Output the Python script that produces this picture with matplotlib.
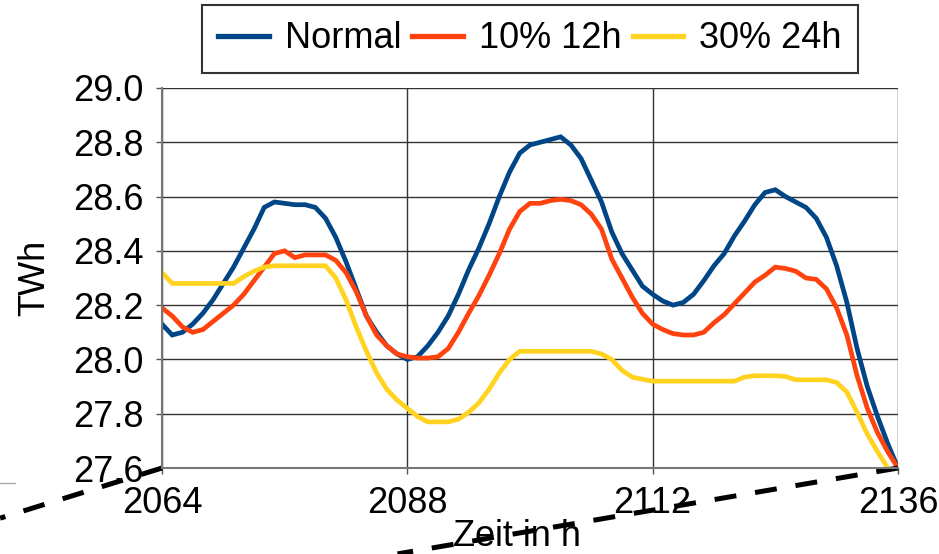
import numpy as np
import matplotlib
matplotlib.use("Agg")
import matplotlib.pyplot as plt

plt.rcParams['font.family'] = ['Liberation Sans', 'DejaVu Sans']

# hourly demand, hours 2064..2136
hours = np.arange(2064, 2137)
normal = [28.13, 28.09, 28.10, 28.13, 28.17, 28.22, 28.28, 28.34, 28.41, 28.48,
          28.56, 28.58, 28.575, 28.57, 28.57, 28.56, 28.52, 28.45, 28.36, 28.26,
          28.16, 28.10, 28.05, 28.02, 28.00,
          28.01, 28.05, 28.10, 28.16, 28.24, 28.33, 28.41, 28.50, 28.60, 28.69,
          28.76, 28.79, 28.80, 28.81, 28.82, 28.79, 28.74, 28.66, 28.58, 28.47,
          28.39, 28.33, 28.27, 28.24,
          28.215, 28.20, 28.21, 28.24, 28.29, 28.345, 28.39, 28.455, 28.51, 28.57,
          28.615, 28.625, 28.60, 28.58, 28.56, 28.52, 28.45, 28.345, 28.21, 28.04,
          27.90, 27.79, 27.69, 27.60]
p10_12h = [28.19, 28.16, 28.12, 28.10, 28.11, 28.14, 28.17, 28.20, 28.24, 28.29,
           28.34, 28.39, 28.40, 28.375, 28.385, 28.385, 28.385, 28.365, 28.32, 28.25,
           28.16, 28.09, 28.05, 28.02, 28.01,
           28.005, 28.005, 28.01, 28.04, 28.10, 28.17, 28.235, 28.31, 28.39, 28.48,
           28.545, 28.575, 28.575, 28.585, 28.59, 28.585, 28.57, 28.535, 28.48, 28.37,
           28.30, 28.23, 28.17, 28.13,
           28.11, 28.095, 28.09, 28.09, 28.10, 28.135, 28.165, 28.205, 28.245, 28.285,
           28.31, 28.34, 28.335, 28.325, 28.30, 28.295, 28.26, 28.19, 28.09, 27.94,
           27.82, 27.73, 27.66, 27.60]
p30_24h = [28.32, 28.28, 28.28, 28.28, 28.28, 28.28, 28.28, 28.28, 28.305, 28.325,
           28.34, 28.345, 28.345, 28.345, 28.345, 28.345, 28.345, 28.30, 28.22, 28.12,
           28.03, 27.95, 27.89, 27.85, 27.82,
           27.79, 27.77, 27.77, 27.77, 27.78, 27.805, 27.84, 27.89, 27.95, 28.00,
           28.03, 28.03, 28.03, 28.03, 28.03, 28.03, 28.03, 28.03, 28.02, 28.00,
           27.96, 27.935, 27.927, 27.92,
           27.92, 27.92, 27.92, 27.92, 27.92, 27.92, 27.92, 27.92, 27.935, 27.94,
           27.94, 27.94, 27.937, 27.925, 27.925, 27.925, 27.925, 27.915, 27.88, 27.805,
           27.725, 27.66, 27.60, 27.55]

labels = ["Normal", "10% 12h", "30% 24h"]
colors = ["#004586", "#ff420e", "#ffd320"]

fig = plt.figure(figsize=(9.39, 5.54), dpi=100)
ax = fig.add_axes([0.1725, 0.1552, 0.7838, 0.686])

for y, lab, c in zip([normal, p10_12h, p30_24h], labels, colors):
    ax.plot(hours, y, color=c, lw=3.4, label=lab, solid_joinstyle='miter')

ax.set_xlim(2064, 2136)
ax.set_ylim(27.6, 29.0)
ax.set_xticks([2064, 2088, 2112, 2136])
ax.set_yticks(np.arange(27.6, 29.01, 0.2))
ax.yaxis.set_major_formatter(matplotlib.ticker.FormatStrFormatter('%.1f'))
ax.grid(True, color='#333333', lw=1.0)
ax.set_axisbelow(True)
for s in ['top', 'right']:
    ax.spines[s].set_visible(False)
for s in ['left', 'bottom']:
    ax.spines[s].set_color('#777777')
    ax.spines[s].set_linewidth(1.5)
ax.tick_params(direction='out', length=4, width=1, color='#555555',
               labelsize=26, pad=9)

ax.set_ylabel("TWh", fontsize=26)
ax.yaxis.set_label_coords(-0.149, 0.5)
ax.set_xlabel("Zeit in h", fontsize=26)
ax.xaxis.set_label_coords(0.482, -0.135)

# dashed guide lines from the lower plot corners
ax.plot([0, -0.22], [0, -0.132], transform=ax.transAxes, clip_on=False,
        color='black', lw=3.6, dashes=(4.4, 3.8))
ax.plot([1, 0.32], [0, -0.226], transform=ax.transAxes, clip_on=False,
        color='black', lw=3.6, dashes=(4.4, 3.8))
ax.plot([-0.22, -0.2], [-0.039, -0.039], transform=ax.transAxes, clip_on=False,
        color='#aaaaaa', lw=1)

leg = fig.legend(loc='upper center', bbox_to_anchor=(0.5645, 1 - 5 / 554), ncol=3,
                 fontsize=26, frameon=True, fancybox=False, borderpad=0.45,
                 handlelength=1.4, handletextpad=0.45, columnspacing=0.3,
                 borderaxespad=0)
leg.get_frame().set_edgecolor('black')
leg.get_frame().set_linewidth(1.5)
for h in leg.get_lines():
    h.set_linewidth(3.8)

fig.savefig("out.png", dpi=100)
